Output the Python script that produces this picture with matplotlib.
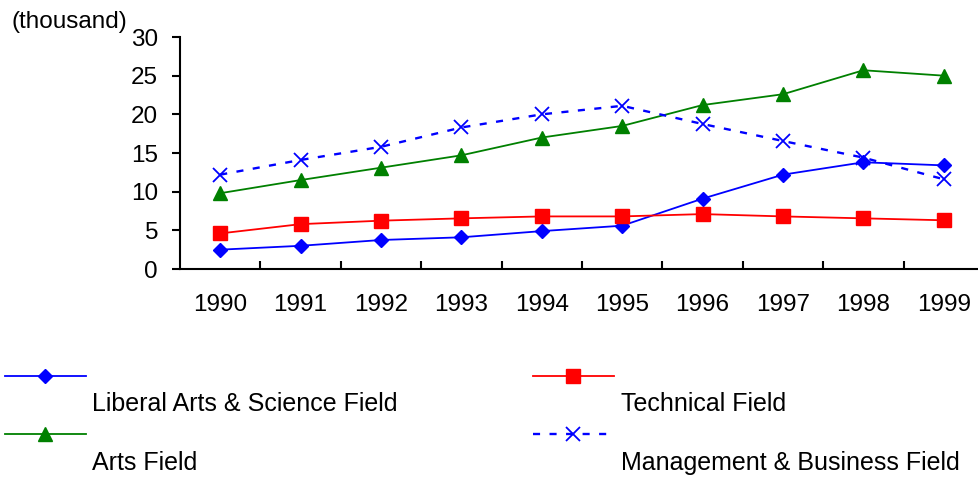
import matplotlib
matplotlib.use("Agg")
import matplotlib.pyplot as plt
from matplotlib.lines import Line2D

plt.rcParams['font.family'] = ['Liberation Sans', 'DejaVu Sans']

years = ['1990', '1991', '1992', '1993', '1994', '1995', '1996', '1997', '1998', '1999']
liberal = [2.5, 3.0, 3.75, 4.1, 4.9, 5.6, 9.1, 12.2, 13.8, 13.4]
technical = [4.6, 5.8, 6.25, 6.55, 6.8, 6.8, 7.1, 6.8, 6.55, 6.3]
arts = [9.8, 11.5, 13.1, 14.7, 17.0, 18.5, 21.2, 22.6, 25.7, 25.0]
management = [12.2, 14.1, 15.8, 18.3, 20.0, 21.1, 18.75, 16.55, 14.4, 11.6]
yticks = [0, 5, 10, 15, 20, 25, 30]

names = ['Liberal Arts & Science Field', 'Technical Field', 'Arts Field',
         'Management & Business Field']

W, H = 979, 478
fig = plt.figure(figsize=(W / 100, H / 100), dpi=100)
ax = fig.add_axes([180 / W, (H - 269) / H, 804 / W, 232 / H])

x = list(range(len(years)))
styles = [
    dict(color='#0000FF', marker='D', markersize=7.4, lw=1.3, ls='-'),
    dict(color='#FF0000', marker='s', markersize=9.8, lw=1.3, ls='-'),
    dict(color='#008000', marker='^', markersize=10.0, lw=1.3, ls='-'),
    dict(color='#0000FF', marker='x', markersize=9.6, lw=1.7, ls=(0, (3, 4)),
         markeredgewidth=1.3),
]
series = [liberal, technical, arts, management]
order = [2, 1, 0, 3]
for i in order:
    ax.plot(x, series[i], clip_on=False, zorder=3 + i, **styles[i])

ax.set_xlim(-0.5, len(years) - 0.5)
ax.set_ylim(0, 30)
ax.set_yticks(yticks)
ax.set_yticklabels([str(t) for t in yticks])
ax.set_xticks([i - 0.5 for i in range(1, len(years))])
ax.set_xticklabels([])
ax.set_xticks(x, minor=True)
ax.set_xticklabels(years, minor=True)

for s in ['top', 'right']:
    ax.spines[s].set_visible(False)
for s in ['left', 'bottom']:
    ax.spines[s].set_linewidth(1.5)
ax.tick_params(axis='y', direction='out', length=5.8, width=1.5, pad=10,
               labelsize=17.5)
ax.tick_params(axis='x', which='major', direction='in', length=5.8, width=1.5)
ax.tick_params(axis='x', which='minor', length=0, pad=18, labelsize=17.5)

fig.text(12 / W, 1 - 22 / H, '(thousand)', fontsize=17.5, ha='left', va='center')

# legend (Excel-style: handle above label)
leg_pos = [(5, 376, 92, 404), (533, 376, 621, 404),
           (5, 434, 92, 463), (533, 434, 621, 463)]
for (hx, hy, tx, ty), i in zip(leg_pos, range(4)):
    st = styles[i]
    ln = Line2D([hx / W, (hx + 81) / W], [1 - hy / H, 1 - hy / H],
                transform=fig.transFigure, color=st['color'], lw=st['lw'],
                ls=st['ls'])
    fig.add_artist(ln)
    mk = Line2D([(hx + 40) / W], [1 - hy / H], transform=fig.transFigure,
                color=st['color'], marker=st['marker'],
                markersize=st['markersize'],
                markeredgewidth=st.get('markeredgewidth', 1.0), ls='none')
    fig.add_artist(mk)
    fig.text(tx / W, 1 - ty / H, names[i], fontsize=18, ha='left', va='center')

fig.savefig('out.png', dpi=100)
